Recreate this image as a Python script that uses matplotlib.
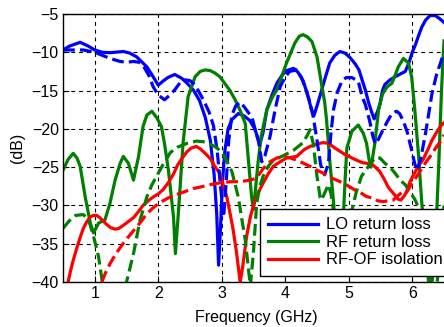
import matplotlib
matplotlib.use('Agg')
import matplotlib.pyplot as plt

plt.rcParams['font.family'] = ['Liberation Sans', 'DejaVu Sans']
plt.rcParams['font.size'] = 11.5

# LO return loss (solid = measured, dashed = simulated)
lo_f = [0.5, 0.6, 0.77, 0.9, 1.0, 1.12, 1.24, 1.45, 1.55, 1.66, 1.82, 1.92, 2.0, 2.07, 2.15, 2.26,
        2.37, 2.45, 2.55, 2.65, 2.74, 2.82, 2.88, 2.92, 2.95, 2.98, 3.01, 3.05, 3.1, 3.16, 3.26,
        3.35, 3.44, 3.52, 3.6, 3.65, 3.71, 3.79, 3.87, 3.95, 4.02, 4.13, 4.2, 4.28, 4.35, 4.41,
        4.45, 4.5, 4.55, 4.63, 4.7, 4.78, 4.86, 4.94, 5.02, 5.1, 5.16, 5.26, 5.31, 5.36, 5.4,
        5.45, 5.49, 5.53, 5.57, 5.65, 5.73, 5.82, 5.89, 5.95, 6.0, 6.05, 6.1, 6.15, 6.21, 6.28,
        6.36, 6.43, 6.5]
lo_db = [-9.7, -9.2, -8.7, -9.2, -9.7, -10.0, -10.05, -9.9, -10.1, -10.6, -11.9, -13.2, -14.3,
         -13.8, -13.3, -12.9, -13.4, -14.0, -14.9, -16.3, -18.5, -21.5, -26, -31, -37.8, -33,
         -27, -22.8, -20.0, -18.8, -18.0, -18.3, -18.9, -20.0, -22.0, -20.5, -17.5, -15.6, -14.0,
         -13.0, -12.4, -12.1, -12.6, -13.7, -15.5, -17.4, -18.3, -17.0, -15.6, -13.3, -11.4,
         -10.4, -9.9, -10.1, -10.7, -11.5, -12.3, -14.9, -16.5, -17.8, -18.7, -17.8, -16.8,
         -15.0, -14.2, -13.6, -13.2, -12.8, -12.5, -11.3, -10.0, -9.0, -7.8, -6.7, -5.8, -5.2,
         -5.2, -5.6, -6.1]

lo_sim_f = [0.5, 0.65, 0.82, 1.0, 1.12, 1.24, 1.4, 1.5, 1.61, 1.7, 1.76, 1.85, 1.92, 2.0, 2.1,
            2.18, 2.26, 2.34, 2.42, 2.5, 2.55, 2.63, 2.71, 2.8, 2.87, 2.93, 2.98, 3.03, 3.07,
            3.11, 3.16, 3.22, 3.29, 3.36, 3.43, 3.48, 3.53, 3.58, 3.63, 3.68, 3.76, 3.84, 3.92,
            4.0, 4.07, 4.18, 4.25, 4.31, 4.38, 4.44, 4.5, 4.56, 4.62, 4.68, 4.72, 4.76, 4.82,
            4.89, 4.96, 5.05, 5.15, 5.21, 5.26, 5.33, 5.38, 5.42, 5.47, 5.54, 5.61, 5.68, 5.75,
            5.8, 5.86, 5.92, 5.99, 6.04, 6.08, 6.13, 6.2, 6.25, 6.31, 6.38, 6.44, 6.5]
lo_sim_db = [-9.7, -9.7, -9.7, -10.0, -10.4, -10.8, -11.2, -11.3, -11.2, -11.3, -11.7, -13.0,
             -14.5, -15.6, -16.2, -15.6, -14.9, -14.0, -13.6, -13.7, -14.05, -15.0, -16.2,
             -17.8, -19.6, -23, -27.5, -31.5, -27, -21.5, -18.2, -17.0, -16.5, -17.2, -18.0,
             -18.6, -20.2, -21.7, -24.3, -23.5, -21.0, -17.5, -14.5, -13.2, -12.5, -12.3, -13.2,
             -14.5, -16.3, -18.4, -21.5, -24.8, -26.0, -24.5, -20.5, -17.5, -15.2, -13.8, -13.3,
             -13.3, -13.8, -15.8, -16.8, -19.0, -21.0, -22.0, -21.3, -20.1, -19.0, -18.0, -17.7,
             -18.0, -19.0, -20.4, -22.8, -24.6, -25.4, -24.0, -21.0, -18.5, -15.4, -13.0, -11.5,
             -10.0]

# RF return loss
rf_f = [0.5, 0.58, 0.66, 0.72, 0.77, 0.85, 0.93, 0.98, 1.06, 1.16, 1.24, 1.32, 1.4, 1.45, 1.53,
        1.61, 1.69, 1.76, 1.82, 1.9, 1.98, 2.05, 2.1, 2.16, 2.24, 2.27, 2.32, 2.39, 2.47, 2.58,
        2.66, 2.74, 2.82, 2.89, 2.97, 3.05, 3.13, 3.21, 3.29, 3.37, 3.42, 3.47, 3.5, 3.53, 3.57,
        3.62, 3.71, 3.8, 3.87, 3.95, 4.02, 4.1, 4.15, 4.22, 4.28, 4.35, 4.42, 4.5, 4.57, 4.62,
        4.65, 4.7, 4.76, 4.8, 4.85, 4.9, 4.94, 4.97, 5.05, 5.15, 5.23, 5.28, 5.32, 5.35, 5.38,
        5.41, 5.47, 5.53, 5.57, 5.62, 5.68, 5.73, 5.78, 5.86, 5.94, 5.99, 6.04, 6.1, 6.15, 6.22,
        6.3, 6.36, 6.42, 6.46, 6.5]
rf_db = [-25.4, -24.0, -23.2, -23.8, -24.9, -28.9, -32.3, -33.6, -32.3, -31.9, -29.7, -26.7,
         -24.5, -23.6, -24.5, -26.7, -23.6, -19.7, -18.2, -17.7, -18.6, -19.7, -22, -25.4, -31.5,
         -36.3, -30.6, -21.9, -15.8, -13.2, -12.5, -12.3, -12.4, -12.7, -13.2, -14.1, -15.0,
         -16.2, -17.6, -19.3, -24.1, -28.9, -30.5, -28, -24.5, -21.0, -17.5, -15.8, -14.9, -13.0,
         -11.4, -9.8, -8.8, -7.9, -7.7, -8.0, -8.6, -10.6, -14.1, -16.5, -18.8, -24.1, -29.5,
         -35, -38, -34, -27, -22.5, -20.3, -19.5, -20.6, -21.9, -24.0, -25.0, -23.5, -21.9,
         -17.5, -15.5, -14.9, -14.4, -14.05, -13.0, -11.9, -10.8, -11.4, -13.2, -17.5, -23.6,
         -29.7, -36, -41, -36, -24, -15, -8.5]

rf_sim_f = [0.5, 0.6, 0.7, 0.82, 0.9, 0.98, 1.06, 1.11, 1.14, 1.3, 1.45, 1.5, 1.61, 1.71, 1.82,
            1.9, 1.98, 2.08, 2.19, 2.3, 2.45, 2.6, 2.74, 2.89, 3.0, 3.08, 3.16, 3.26, 3.33, 3.37,
            3.45, 3.5, 3.55, 3.6, 3.65, 3.73, 3.81, 3.97, 4.13, 4.28, 4.35, 4.39, 4.44, 4.5,
            4.55, 4.57, 4.63, 4.68, 4.72, 4.8, 4.88, 4.97, 5.05, 5.12, 5.2, 5.31, 5.41, 5.49,
            5.57, 5.65, 5.73, 5.81, 5.89, 5.96, 6.04, 6.1, 6.17, 6.22, 6.26, 6.35, 6.5]
rf_sim_db = [-33.0, -32.0, -31.3, -31.2, -31.8, -34.0, -36.7, -39.5, -41, -46, -42, -40, -36.3,
             -32.0, -28.9, -27.3, -26.1, -24.6, -23.1, -22.4, -21.9, -21.6, -21.7, -22.3, -23.0,
             -24.2, -25.6, -28.9, -32.5, -34.5, -40.5, -36, -29.7, -27.5, -26.2, -24.9, -24.1,
             -23.5, -22.8, -21.8, -20.8, -20.1, -21.9, -26.2, -29.0, -29.3, -28.2, -27.3, -28.5,
             -33, -36, -34, -30.6, -28.2, -26.2, -24.9, -23.8, -23.8, -24.5, -25.0, -25.8, -26.7,
             -27.3, -28.2, -29.2, -30.3, -32, -36, -40.5, -44, -30]

# RF-OF isolation
iso_f = [0.58, 0.62, 0.66, 0.72, 0.77, 0.82, 0.87, 0.93, 0.98, 1.03, 1.08, 1.14, 1.19, 1.25,
         1.32, 1.38, 1.45, 1.53, 1.61, 1.68, 1.76, 1.84, 1.92, 2.0, 2.08, 2.16, 2.24, 2.3, 2.37,
         2.45, 2.52, 2.6, 2.66, 2.74, 2.82, 2.89, 2.97, 3.03, 3.08, 3.13, 3.18, 3.23, 3.29, 3.33,
         3.39, 3.45, 3.5, 3.57, 3.65, 3.73, 3.81, 3.9, 4.02, 4.18, 4.3, 4.39, 4.53, 4.6, 4.68,
         4.8, 4.95, 5.1, 5.21, 5.36, 5.42, 5.49, 5.56, 5.62, 5.7, 5.78, 5.82, 5.87, 5.91, 5.96,
         6.02, 6.1, 6.17, 6.24, 6.31, 6.38, 6.45, 6.5]
iso_db = [-40, -38.5, -37.2, -35.5, -34.2, -33.0, -32.2, -31.5, -31.3, -31.3, -31.6, -32.1,
          -32.5, -32.9, -33.1, -33.0, -32.6, -32.1, -31.6, -30.9, -30.0, -29.4, -28.9, -28.5,
          -27.9, -27.0, -25.9, -24.8, -23.9, -23.0, -22.5, -22.3, -22.6, -23.2, -23.9, -24.9,
          -25.8, -27.5, -28.9, -31, -33.2, -36, -40, -38, -34.1, -31.5, -30.0, -28.4, -27.1,
          -25.9, -24.9, -24.4, -23.8, -23.6, -22.7, -22.3, -21.9, -21.8, -21.9, -22.6, -23.4,
          -24.0, -24.4, -24.6, -25.0, -25.6, -26.6, -27.6, -28.4, -29.2, -29.3, -28.8, -28.2,
          -27.0, -26.0, -24.8, -24.0, -22.8, -21.5, -20.5, -19.6, -19.2]

iso_sim_f = [1.11, 1.17, 1.24, 1.32, 1.4, 1.5, 1.61, 1.72, 1.82, 1.92, 2.03, 2.14, 2.24, 2.35,
             2.45, 2.55, 2.66, 2.76, 2.87, 3.0, 3.15, 3.29, 3.45, 3.55, 3.65, 3.76, 3.87, 3.97,
             4.08, 4.18, 4.29, 4.39, 4.5, 4.6, 4.7, 4.81, 4.92, 5.02, 5.1, 5.18, 5.27, 5.39,
             5.46, 5.54, 5.62, 5.7, 5.78, 5.86, 5.91, 5.99, 6.07, 6.15, 6.22, 6.29, 6.36, 6.43,
             6.5]
iso_sim_db = [-40, -38.8, -37.6, -36.5, -35.5, -34.4, -33.3, -32.2, -31.1, -30.3, -29.6, -29.1,
              -28.7, -28.4, -28.1, -27.8, -27.6, -27.4, -27.2, -27.0, -26.9, -26.9, -26.7,
              -26.4, -25.2, -24.3, -23.8, -23.6, -23.8, -24.1, -24.5, -24.9, -25.4, -25.8,
              -26.3, -26.7, -27.1, -27.6, -28.0, -28.3, -28.8, -29.1, -29.4, -29.5, -29.4,
              -29.3, -28.7, -28.1, -28.3, -27.2, -26.2, -25.2, -24.3, -23.5, -22.6, -21.8, -20.8]

labels = ['LO return loss', 'RF return loss', 'RF-OF isolation']
blue, green, red = '#0000ff', '#008000', '#ff0000'

fig = plt.figure(figsize=(4.44, 3.27), dpi=100)
ax = fig.add_axes([0.1419, 0.1376, 0.8653, 0.8196])

lw = 2.3
ax.plot(lo_f, lo_db, color=blue, lw=lw, label=labels[0])
ax.plot(rf_f, rf_db, color=green, lw=lw, label=labels[1])
ax.plot(iso_f, iso_db, color=red, lw=lw, label=labels[2])
ax.plot(lo_sim_f, lo_sim_db, color=blue, lw=lw, ls='--')
ax.plot(rf_sim_f, rf_sim_db, color=green, lw=lw, ls='--')
ax.plot(iso_sim_f, iso_sim_db, color=red, lw=lw, ls='--')

ax.set_xlim(0.5, 6.55)
ax.set_ylim(-40, -5)
ax.set_xticks([1, 2, 3, 4, 5, 6])
ax.set_yticks([-40, -35, -30, -25, -20, -15, -10, -5])
ax.grid(True, color='k', lw=0.8, ls=(0, (3.5, 3.5)))
ax.tick_params(direction='in', length=4, width=0.8, pad=3)
for s in ax.spines.values():
    s.set_linewidth(1.0)

ax.set_xlabel('Frequency (GHz)')
ax.xaxis.set_label_coords(0.502, -0.106)
ax.set_ylabel('(dB)')
ax.yaxis.set_label_coords(-0.098, 0.5)

leg = ax.legend(loc='upper left', bbox_to_anchor=(0.513, 0.272), borderaxespad=0,
                fancybox=False, framealpha=1, edgecolor='k', handlelength=3.0,
                handletextpad=0.45, labelspacing=0.15, borderpad=0.5, fontsize=12)
leg.get_frame().set_linewidth(1.0)

fig.savefig('out.png', dpi=100)
